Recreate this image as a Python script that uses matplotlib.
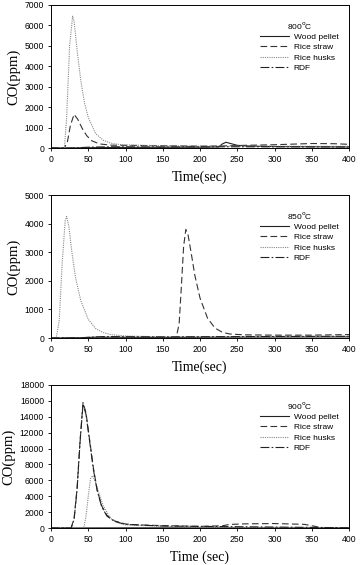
import numpy as np
import matplotlib.pyplot as plt

# Data (time in sec, CO in ppm)
labels = ['Wood pellet', 'Rice straw', 'Rice husks', 'RDF']
temps = ['800', '850', '900']

# 800 C
t_wood_800 = [0, 20, 40, 100, 200, 225, 230, 235, 240, 250, 270, 300, 350, 400]
co_wood_800 = [0, 0, 10, 30, 40, 50, 200, 280, 230, 130, 90, 70, 60, 50]
t_straw_800 = [0, 18, 22, 26, 31, 36, 42, 48, 55, 65, 80, 100, 150, 200, 230, 260, 300, 350, 380, 400]
co_straw_800 = [0, 0, 300, 1100, 1650, 1400, 950, 600, 350, 200, 140, 130, 110, 90, 100, 130, 160, 220, 210, 180]
t_husk_800 = [0, 18, 21, 25, 29, 31, 35, 40, 45, 50, 60, 70, 80, 90, 100, 150, 200, 400]
co_husk_800 = [0, 0, 1500, 5000, 6450, 6200, 4800, 3300, 2200, 1500, 700, 380, 240, 180, 150, 110, 90, 80]
t_rdf_800 = [0, 30, 50, 80, 150, 250, 400]
co_rdf_800 = [0, 0, 40, 60, 50, 60, 50]

# 850 C
t_wood_850 = [0, 30, 60, 150, 250, 400]
co_wood_850 = [0, 0, 30, 20, 30, 40]
t_straw_850 = [0, 168, 172, 175, 178, 181, 184, 188, 193, 200, 210, 220, 230, 240, 260, 300, 350, 400]
co_straw_850 = [0, 0, 500, 1800, 3200, 3800, 3600, 3000, 2200, 1400, 700, 350, 200, 140, 110, 100, 100, 120]
t_husk_850 = [0, 7, 11, 15, 19, 21, 24, 28, 33, 40, 50, 60, 70, 80, 100, 150, 400]
co_husk_850 = [0, 0, 600, 2600, 4100, 4250, 3900, 3000, 2100, 1300, 650, 330, 190, 120, 70, 40, 30]
t_rdf_850 = [0, 40, 70, 150, 250, 400]
co_rdf_850 = [0, 10, 50, 40, 50, 60]

# 900 C
t_wood_900 = [0, 50, 100, 200, 300, 400]
co_wood_900 = [0, 10, 20, 20, 20, 10]
t_straw_900 = [0, 27, 31, 35, 39, 43, 47, 52, 57, 62, 68, 75, 85, 100, 120, 150, 200, 230, 240, 260, 300, 340, 355, 362, 400]
co_straw_900 = [0, 0, 1200, 5000, 11000, 15800, 14500, 11000, 7500, 4800, 2800, 1600, 900, 500, 380, 300, 200, 280, 450, 520, 560, 460, 200, 40, 0]
t_husk_900 = [0, 44, 47, 50, 53, 56, 60, 65, 70, 80, 90, 100, 150, 200, 400]
co_husk_900 = [0, 0, 1500, 4000, 6200, 6600, 5700, 4200, 2800, 1200, 650, 400, 200, 100, 50]
t_rdf_900 = [0, 27, 31, 35, 39, 43, 47, 52, 57, 62, 68, 75, 85, 100, 150, 400]
co_rdf_900 = [0, 0, 1100, 4800, 10800, 15600, 14300, 10800, 7300, 4700, 2700, 1500, 850, 450, 250, 30]

panels = [
    ([(t_wood_800, co_wood_800), (t_straw_800, co_straw_800), (t_husk_800, co_husk_800), (t_rdf_800, co_rdf_800)], 7000, 1000, 'Time(sec)'),
    ([(t_wood_850, co_wood_850), (t_straw_850, co_straw_850), (t_husk_850, co_husk_850), (t_rdf_850, co_rdf_850)], 5000, 1000, 'Time(sec)'),
    ([(t_wood_900, co_wood_900), (t_straw_900, co_straw_900), (t_husk_900, co_husk_900), (t_rdf_900, co_rdf_900)], 18000, 2000, 'Time (sec)'),
]

styles = [
    dict(ls='-', color='#222222'),
    dict(ls=(0, (6, 3)), color='#333333'),
    dict(ls=(0, (1, 1)), color='#888888'),
    dict(ls=(0, (8, 2, 1.5, 2)), color='#222222'),
]

fig = plt.figure(figsize=(3.62, 5.65), dpi=100)
W, H = 362, 565
tops = [5, 195, 385]
for i, (series, ymax, ystep, xlab) in enumerate(panels):
    ax = fig.add_axes([51 / W, 1 - (tops[i] + 143) / H, 298 / W, 143 / H])
    for (t, c), lab, st in zip(series, labels, styles):
        ax.plot(t, c, lw=0.8, label=lab, **st)
    ax.set_xlim(0, 400)
    ax.set_ylim(0, ymax)
    ax.set_xticks(np.arange(0, 401, 50))
    ax.set_yticks(np.arange(0, ymax + 1, ystep))
    ax.tick_params(labelsize=6.2, length=2.5, width=0.6, direction='out', pad=2.5)
    for lbl in ax.get_xticklabels() + ax.get_yticklabels():
        lbl.set_family('Liberation Sans')
    for sp in ax.spines.values():
        sp.set_linewidth(0.7)
    ax.set_xlabel(xlab, family='Liberation Serif', fontsize=10, labelpad=5)
    ax.set_ylabel('CO(ppm)', family='Liberation Serif', fontsize=10.5, labelpad=3)
    leg = ax.legend(loc='upper right', bbox_to_anchor=(0.99, 0.95), frameon=False,
                    title=temps[i] + r'$^{\rm o}$C',
                    prop=dict(family='Liberation Sans', size=6),
                    handlelength=3.4, handletextpad=0.6, labelspacing=0.3)
    leg.get_title().set_fontsize(6)
    leg.get_title().set_family('Liberation Sans')

fig.savefig('out.png', dpi=100)
